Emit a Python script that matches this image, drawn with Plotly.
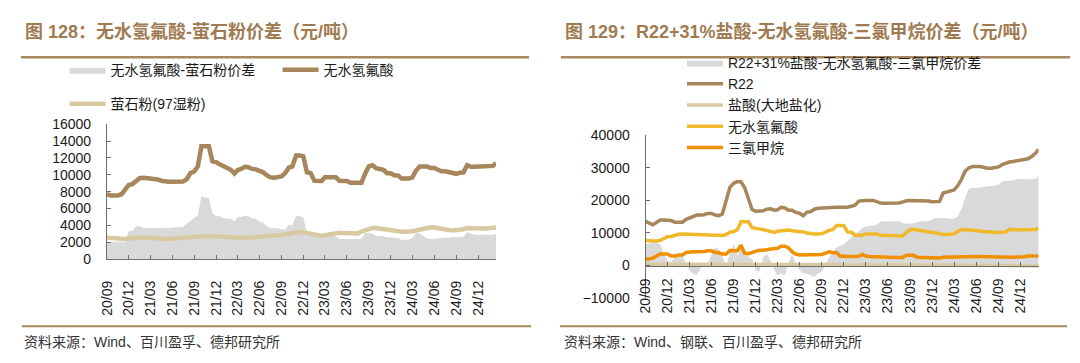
import pandas as pd
import plotly.graph_objects as go

# ---------------- dates (semi-monthly observation points) ----------------
_months = pd.date_range("2020-09-01", "2025-02-01", freq="MS")
dates = []
for _d in _months:
    dates.append(_d.strftime("%Y-%m-%d"))
    if _d < pd.Timestamp("2025-02-01"):
        dates.append((_d + pd.Timedelta(days=15)).strftime("%Y-%m-%d"))
dates.append("2025-02-14")

# ---------------- left chart: 无水氢氟酸 / 萤石粉 ----------------
hf_price = [
    7700, 7550, 7550, 7550, 7700, 8300, 8800, 8900, 9300, 9600, 9650, 9600,
    9600, 9550, 9450, 9300, 9200, 9170, 9170, 9170, 9170, 9200, 9500, 10200,
    10400, 11000, 13400, 13450, 13400, 11600, 11500, 11250, 11000, 10700, 10600, 10150,
    10550, 10700, 10950, 10900, 10700, 10650, 10500, 10300, 9950, 9700, 9650, 9700,
    9800, 10200, 10850, 11000, 12300, 12300, 12200, 10300, 10200, 9300, 9280, 9280,
    9700, 9740, 9740, 9700, 9300, 9280, 9280, 9060, 9060, 9060, 9060, 10100,
    11000, 11140, 10800, 10690, 10600, 10190, 10190, 9950, 9930, 9550, 9550, 9550,
    9700, 10490, 11000, 11060, 11000, 10800, 10800, 10600, 10410, 10410, 10300, 10120,
    10120, 10250, 10300, 11150, 10950, 10950, 10950, 10950, 10950, 11000, 11060, 11400,
]
fluorite_price = [
    2550, 2500, 2450, 2420, 2400, 2400, 2450, 2500, 2550, 2600, 2600, 2570,
    2520, 2450, 2400, 2380, 2380, 2400, 2420, 2450, 2460, 2500, 2550, 2600,
    2630, 2680, 2720, 2740, 2740, 2720, 2700, 2680, 2650, 2600, 2550, 2470,
    2460, 2480, 2520, 2550, 2570, 2600, 2630, 2660, 2680, 2720, 2760, 2820,
    2870, 2950, 3050, 3130, 3200, 3240, 3200, 3100, 3000, 2900, 2800, 2760,
    2850, 2950, 3050, 3100, 3130, 3100, 3060, 3030, 3020, 3050, 3250, 3400,
    3600, 3700, 3680, 3620, 3590, 3500, 3400, 3300, 3250, 3250, 3250, 3250,
    3300, 3400, 3500, 3650, 3750, 3780, 3750, 3650, 3550, 3500, 3450, 3400,
    3420, 3480, 3550, 3680, 3700, 3670, 3650, 3640, 3630, 3650, 3680, 3750,
]
hf_spread = [
    2000, 2050, 2100, 2100, 2100, 2000, 3300, 3350, 3900, 3900, 3700, 3650,
    3650, 3650, 3650, 3700, 3750, 3700, 3750, 3750, 3750, 3800, 4200, 4500,
    4800, 5200, 7450, 7300, 7250, 5400, 5150, 5100, 4850, 4800, 4800, 4450,
    5000, 5000, 5150, 5100, 4850, 4800, 4400, 4300, 3900, 3700, 3700, 3650,
    3550, 3500, 4100, 4000, 5150, 5100, 5000, 3050, 2950, 2950, 2900, 2850,
    2800, 2900, 2800, 2700, 2400, 2400, 2350, 2400, 2400, 2350, 2400, 3100,
    3100, 3000, 2750, 2700, 2700, 2600, 2550, 2500, 2500, 2300, 2300, 2300,
    2500, 3100, 3050, 2700, 2450, 2400, 2400, 2450, 2500, 2550, 2550, 2600,
    2600, 2650, 2650, 3200, 3000, 2900, 2900, 2900, 2900, 2900, 2900, 3000,
]

# ---------------- right chart: R22 / 盐酸 / 无水氢氟酸 / 三氯甲烷 ----------------
r22_price = [
    13600, 13000, 12500, 13200, 14000, 14000, 14000, 13800, 13300, 13300, 13300, 14200,
    14600, 15000, 15500, 15500, 15600, 16000, 16000, 15500, 15300, 15800, 20000, 24000,
    25300, 25800, 25700, 24000, 20500, 17200, 16700, 16700, 16800, 17300, 17400, 17000,
    17100, 17900, 17700, 17000, 17000, 16300, 16000, 15300, 16400, 16500, 17300, 17600,
    17700, 17800, 17900, 17900, 17900, 17900, 17900, 17900, 18200, 18500, 19800, 20000,
    20000, 20000, 20000, 19600, 19200, 19100, 19100, 19100, 19100, 19200, 19500, 19900,
    20000, 20000, 20000, 20000, 20000, 19800, 19600, 19600, 19700, 22300, 22600, 23000,
    23200, 24500, 26500, 29000, 30000, 30400, 30500, 30400, 30200, 29900, 29900, 30000,
    30300, 31000, 31500, 31800, 32000, 32200, 32600, 32700, 32800, 33500, 34500, 35700,
]
hcl_price = [
    400, 400, 400, 350, 350, 350, 350, 350, 300, 300, 300, 300,
    300, 300, 300, 300, 300, 300, 350, 350, 400, 400, 450, 450,
    500, 500, 500, 450, 400, 400, 350, 350, 300, 300, 300, 300,
    300, 300, 300, 300, 250, 250, 250, 250, 250, 250, 250, 250,
    250, 250, 250, 250, 250, 200, 200, 200, 200, 200, 200, 200,
    200, 200, 200, 200, 150, 150, 150, 150, 150, 150, 150, 150,
    150, 150, 150, 150, 150, 100, 100, 100, 100, 100, 100, 100,
    100, 100, 100, 100, 50, 50, 50, 50, 50, 50, 50, 50,
    0, 0, 0, 0, 0, 0, -50, -50, -50, -100, -100, -100,
]
chcl3_price = [
    1960, 1960, 2250, 2800, 3500, 3500, 3500, 2900, 2900, 3200, 3200, 4000,
    4200, 4200, 4200, 4200, 4300, 4500, 4500, 4000, 3900, 3500, 3500, 4600,
    4500, 4500, 6200, 3800, 3600, 3900, 4300, 4700, 4700, 4900, 5200, 5200,
    5300, 5900, 5900, 5400, 4200, 3500, 3200, 3200, 3200, 3200, 3200, 3400,
    3400, 3800, 4200, 3900, 3900, 2900, 2750, 2750, 2750, 2750, 2800, 3400,
    2900, 2750, 2700, 2450, 2450, 2450, 2450, 2450, 2450, 2450, 2450, 3100,
    3200, 3100, 2500, 2450, 2450, 2400, 2250, 2250, 2250, 2500, 2550, 2550,
    2700, 2750, 2750, 2750, 2750, 2750, 2750, 2750, 2700, 2600, 2550, 2550,
    2550, 2550, 2550, 2550, 2550, 2550, 2550, 2700, 2900, 2900, 2900, 2900,
]
r22_spread = [
    6500, 6800, 7000, 7000, 6500, 3500, 1500, 1000, 2800, 3300, 3000, 500,
    -1500, -2500, -3000, -1000, 200, 500, 3500, 5500, 5000, 3000, -500, 4000,
    6500, 3000, 5500, 5000, 2500, 2000, -1500, -2000, 2500, 3500, 1500, -1500,
    -3000, -2500, -3000, 1000, 3500, 500, -1500, -2500, -2500, -3000, -3500, -2500,
    -2000, 500, 2500, 4500, 5500, 6000, 6500, 7500, 8500, 9500, 10500, 11500,
    12000, 12200, 12200, 12500, 13500, 13600, 13500, 13600, 13500, 13600, 13000, 12900,
    12800, 13000, 13300, 13600, 13600, 13700, 14200, 14600, 14600, 14600, 14500, 14300,
    14400, 15000, 17500, 21000, 23500, 23900, 23900, 23900, 24200, 24400, 24400, 24500,
    25000, 25800, 25900, 26000, 26200, 26500, 26600, 26600, 26400, 26500, 26700, 27800,
]

# ---------------- text ----------------
title_left = "图 128：无水氢氟酸-萤石粉价差（元/吨）"
title_right = "图 129：R22+31%盐酸-无水氢氟酸-三氯甲烷价差（元/吨）"
source_left = "资料来源：Wind、百川盈孚、德邦研究所"
source_right = "资料来源：Wind、钢联、百川盈孚、德邦研究所"

BROWN = "#a6865a"
TAN = "#d9c9a0"
GRAY = "#d9d9d9"
YELLOW = "#f0b92a"
ORANGE = "#f09000"
TITLE_C = "#a07b52"
RULE_C = "#a8895f"
AX_C = "#6e6e6e"
FONT = "Liberation Sans, Noto Sans CJK SC, sans-serif"

W, H = 1080, 363
def px(x):
    return x / W
def py(y):
    return 1 - y / H

fig = go.Figure()

# left
fig.add_trace(go.Scatter(x=dates, y=hf_spread, name="无水氢氟酸-萤石粉价差", mode="lines",
                         fill="tozeroy", fillcolor=GRAY, line=dict(width=0, color=GRAY),
                         xaxis="x", yaxis="y", legend="legend"))
fig.add_trace(go.Scatter(x=dates, y=hf_price, name="无水氢氟酸", mode="lines",
                         line=dict(width=4.5, color=BROWN), xaxis="x", yaxis="y", legend="legend"))
fig.add_trace(go.Scatter(x=dates, y=fluorite_price, name="萤石粉(97湿粉)", mode="lines",
                         line=dict(width=4.5, color=TAN), xaxis="x", yaxis="y", legend="legend3"))

# right
fig.add_trace(go.Scatter(x=dates, y=r22_spread, name="R22+31%盐酸-无水氢氟酸-三氯甲烷价差", mode="lines",
                         fill="tozeroy", fillcolor=GRAY, line=dict(width=0, color=GRAY),
                         xaxis="x2", yaxis="y2", legend="legend2"))
fig.add_trace(go.Scatter(x=dates, y=r22_price, name="R22", mode="lines",
                         line=dict(width=3.5, color=BROWN), xaxis="x2", yaxis="y2", legend="legend2"))
fig.add_trace(go.Scatter(x=dates, y=hcl_price, name="盐酸(大地盐化)", mode="lines",
                         line=dict(width=3.5, color=TAN), xaxis="x2", yaxis="y2", legend="legend2"))
fig.add_trace(go.Scatter(x=dates, y=hf_price, name="无水氢氟酸", mode="lines",
                         line=dict(width=3.5, color=YELLOW), xaxis="x2", yaxis="y2", legend="legend2"))
fig.add_trace(go.Scatter(x=dates, y=chcl3_price, name="三氯甲烷", mode="lines",
                         line=dict(width=3.5, color=ORANGE), xaxis="x2", yaxis="y2", legend="legend2"))

xcommon = dict(type="date", range=["2020-09-01", "2025-02-14"], tick0="2020-09-01", dtick="M3",
               tickformat="%y/%m", tickangle=-90, ticks="inside", ticklen=4, tickcolor=AX_C,
               showline=True, linecolor=AX_C, linewidth=1, showgrid=False, zeroline=False,
               tickfont=dict(family=FONT, size=14, color="#1a1a1a"))
ycommon = dict(ticks="inside", ticklen=4, tickcolor=AX_C, showline=True, linecolor=AX_C,
               linewidth=1, showgrid=False, zeroline=False, tickformat="d",
               ticklabelstandoff=12,
               tickfont=dict(family=FONT, size=14, color="#1a1a1a"))

legend_font = dict(family=FONT, size=14, color="#1a1a1a")

fig.update_layout(
    width=W, height=H, margin=dict(l=0, r=0, t=0, b=0),
    paper_bgcolor="white", plot_bgcolor="rgba(0,0,0,0)",
    xaxis=dict(domain=[px(99.7), px(491.7)], anchor="y", ticklabelstandoff=15, **xcommon),
    yaxis=dict(domain=[py(262.7), py(121.6)], anchor="x", range=[0, 16000], dtick=2000, **ycommon),
    xaxis2=dict(domain=[px(642.3), px(1038.3)], anchor="free", position=py(269.7),
                ticklabelstandoff=6, **xcommon),
    yaxis2=dict(domain=[py(303.3), py(133.3)], anchor="x2", range=[-10000, 40000], dtick=10000, **ycommon),
    legend=dict(orientation="h", x=px(57), y=py(65), xanchor="left", yanchor="middle",
                bgcolor="rgba(0,0,0,0)", font=legend_font, itemwidth=36,
                entrywidth=162, entrywidthmode="pixels"),
    legend3=dict(orientation="h", x=px(57), y=py(100.5), xanchor="left", yanchor="middle",
                 bgcolor="rgba(0,0,0,0)", font=legend_font, itemwidth=36),
    legend2=dict(orientation="v", x=px(679), y=py(101.5), xanchor="left", yanchor="middle",
                 bgcolor="rgba(0,0,0,0)", font=legend_font, itemwidth=36, tracegroupgap=0),
    showlegend=True,
)

# titles
fig.add_annotation(text=title_left, x=px(15), y=py(25), xref="paper", yref="paper",
                   xanchor="left", yanchor="middle", showarrow=False,
                   font=dict(family=FONT, size=18, color=TITLE_C, weight="bold"))
fig.add_annotation(text=title_right, x=px(559), y=py(25), xref="paper", yref="paper",
                   xanchor="left", yanchor="middle", showarrow=False,
                   font=dict(family=FONT, size=18, color=TITLE_C, weight="bold"))
# sources
fig.add_annotation(text=source_left, x=px(14), y=py(349), xref="paper", yref="paper",
                   xanchor="left", yanchor="middle", showarrow=False,
                   font=dict(family=FONT, size=14, color="#333333"))
fig.add_annotation(text=source_right, x=px(558), y=py(349), xref="paper", yref="paper",
                   xanchor="left", yanchor="middle", showarrow=False,
                   font=dict(family=FONT, size=14, color="#333333"))

# rules
for x0, x1 in [(13, 525), (557, 1070)]:
    fig.add_shape(type="line", xref="paper", yref="paper", x0=px(x0), x1=px(x1),
                  y0=py(51.5), y1=py(51.5), line=dict(color=RULE_C, width=2.5))
for x0, x1 in [(14, 527), (556, 1067)]:
    fig.add_shape(type="line", xref="paper", yref="paper", x0=px(x0), x1=px(x1),
                  y0=py(333), y1=py(333), line=dict(color=RULE_C, width=2))

fig.write_html("out.html", config={"displayModeBar": False},
               post_script="document.body.style.margin='0px';")
